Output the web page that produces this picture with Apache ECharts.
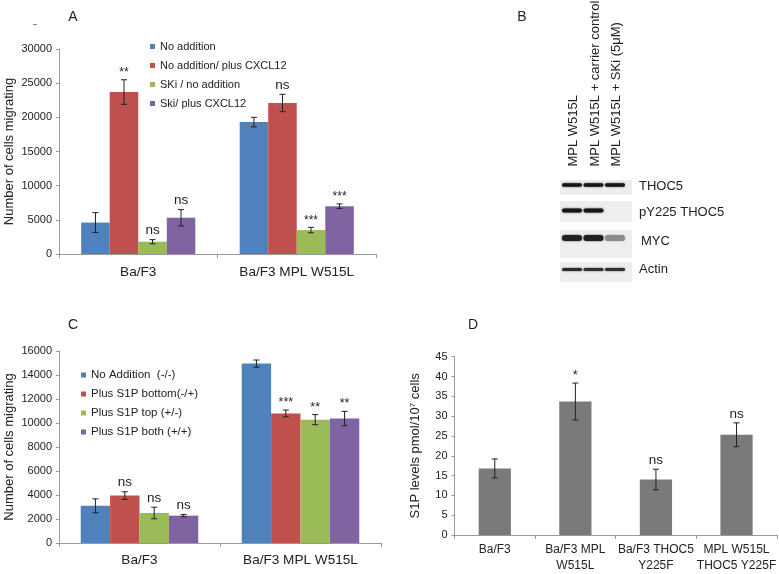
<!DOCTYPE html>
<html><head><meta charset="utf-8">
<script src="https://cdn.jsdelivr.net/npm/echarts@6/dist/echarts.min.js"></script>
<style>html,body{margin:0;padding:0;background:#fff}#c{width:779px;height:574px}</style>
</head><body><div id="c"></div>
<script>
// ---------- DATA ----------
const categoriesA = ['Ba/F3', 'Ba/F3 MPL W515L'];
const seriesNamesA = ['No addition', 'No addition/ plus CXCL12', 'SKi / no addition', 'Ski/ plus CXCL12'];
const valuesA = [[4600, 19300], [23700, 22100], [1800, 3500], [5300, 7000]];
const errorsA = [[1450, 700], [1800, 1270], [300, 400], [1200, 330]];
const sigA = [['', ''], ['**', 'ns'], ['ns', '***'], ['ns', '***']];
const ticksA = [0, 5000, 10000, 15000, 20000, 25000, 30000];

const categoriesC = ['Ba/F3', 'Ba/F3 MPL W515L'];
const seriesNamesC = ['No Addition  (-/-)', 'Plus S1P bottom(-/+)', 'Plus S1P top (+/-)', 'Plus S1P both (+/+)'];
const valuesC = [[3100, 14950], [3950, 10800], [2500, 10280], [2280, 10370]];
const errorsC = [[580, 300], [320, 280], [480, 420], [100, 600]];
const sigC = [['', ''], ['ns', '***'], ['ns', '**'], ['ns', '**']];
const ticksC = [0, 2000, 4000, 6000, 8000, 10000, 12000, 14000, 16000];

const categoriesD = ['Ba/F3', 'Ba/F3 MPL\nW515L', 'Ba/F3 THOC5\nY225F', 'MPL W515L\nTHOC5 Y225F'];
const valuesD = [16.8, 33.7, 14.0, 25.3];
const errorsD = [2.4, 4.65, 2.6, 3.0];
const sigD = ['', '*', 'ns', 'ns'];
const ticksD = [0, 5, 10, 15, 20, 25, 30, 35, 40, 45];

const blotLanes = ['MPL W515L', 'MPL W515L + carrier control', 'MPL W515L + SKi (5\u03BCM)'];
const blotProteins = ['THOC5', 'pY225 THOC5', 'MYC', 'Actin'];
const blotIntensity = [[1, 1, 1], [1, 1, 0.03], [0.95, 0.95, 0.45], [0.9, 0.88, 0.88]];

// ---------- STYLE ----------
const FONT = 'Liberation Sans, Arial, Helvetica, sans-serif';
const colors4 = ['#4F81BD', '#C0504D', '#9BBB59', '#8064A2'];
const TXT = '#222';
const AX = '#9a9a9a';

const chart = echarts.init(document.getElementById('c'), null, {renderer: 'canvas'});

function errSeries(gridIdx, idx, n, gap, vals, errs, sigs, sigFont) {
  const data = vals.map((v, i) => [i, v, errs[i]]);
  return {
    type: 'custom', xAxisIndex: gridIdx, yAxisIndex: gridIdx, z: 10, silent: true,
    data: data,
    encode: {x: 0, y: 1},
    renderItem: function (params, api) {
      const ci = api.value(0), v = api.value(1), e = api.value(2);
      const p = api.coord([ci, v]);
      const cw = api.size([1, 0])[0];
      const bw = cw * (1 - gap) / n;
      const x = p[0] + (idx - (n - 1) / 2) * bw;
      const yt = api.coord([ci, v + e])[1];
      const yb = api.coord([ci, v - e])[1];
      const ls = {stroke: '#222', lineWidth: 1};
      const cap = 3;
      const s = sigs[params.dataIndex];
      const children = [
        {type: 'line', shape: {x1: x, y1: yt, x2: x, y2: yb}, style: ls},
        {type: 'line', shape: {x1: x - cap, y1: yt, x2: x + cap, y2: yt}, style: ls},
        {type: 'line', shape: {x1: x - cap, y1: yb, x2: x + cap, y2: yb}, style: ls}
      ];
      if (s) {
        const isStar = s.indexOf('*') >= 0;
        children.push({type: 'text', style: {
          text: s, x: x, y: yt - (isStar ? 1 : 2), align: 'center', verticalAlign: 'bottom',
          fontSize: isStar ? sigFont[0] : sigFont[1], fontFamily: FONT, fill: TXT
        }});
      }
      return {type: 'group', children: children};
    }
  };
}

function yAx(gridIdx, max, interval, name, gap) {
  return {
    type: 'value', gridIndex: gridIdx, min: 0, max: max, interval: interval,
    name: name, nameLocation: 'middle', nameGap: gap,
    nameTextStyle: {fontSize: 13, fontFamily: FONT, color: TXT,
      rich: {sup: {fontSize: 8, verticalAlign: 'top', padding: [0, 0, 6, 0], fontFamily: FONT, color: TXT}, n: {fontSize: 13, fontFamily: FONT, color: TXT}}},
    axisLine: {show: true, lineStyle: {color: AX}},
    axisTick: {show: true, length: 3, lineStyle: {color: AX}},
    axisLabel: {fontSize: 11, fontFamily: FONT, color: TXT, margin: 7, formatter: v => String(v)},
    splitLine: {show: false}
  };
}
function xAx(gridIdx, cats, fs, margin, lh) {
  return {
    type: 'category', gridIndex: gridIdx, data: cats,
    axisLine: {show: true, lineStyle: {color: AX}},
    axisTick: {show: true, length: 4, alignWithLabel: false, lineStyle: {color: AX}},
    axisLabel: {fontSize: fs, fontFamily: FONT, color: TXT, margin: margin, interval: 0, lineHeight: lh || fs * 1.2},
    splitLine: {show: false}
  };
}

const gapA = 0.28, gapC = 0.27, gapD = 0.60;

const series = [];
seriesNamesA.forEach((nm, i) => {
  series.push({type: 'bar', name: nm, xAxisIndex: 0, yAxisIndex: 0, data: valuesA[i],
    barGap: '0%', barCategoryGap: (gapA * 100) + '%', itemStyle: {color: colors4[i]}});
});
seriesNamesA.forEach((nm, i) => series.push(errSeries(0, i, 4, gapA, valuesA[i], errorsA[i], sigA[i], [12, 13.5])));
seriesNamesC.forEach((nm, i) => {
  series.push({type: 'bar', name: nm, xAxisIndex: 1, yAxisIndex: 1, data: valuesC[i],
    barGap: '0%', barCategoryGap: (gapC * 100) + '%', itemStyle: {color: colors4[i]}});
});
seriesNamesC.forEach((nm, i) => series.push(errSeries(1, i, 4, gapC, valuesC[i], errorsC[i], sigC[i], [12.5, 13.5])));
series.push({type: 'bar', name: 'S1P levels', xAxisIndex: 2, yAxisIndex: 2, data: valuesD,
  barCategoryGap: (gapD * 100) + '%', itemStyle: {color: '#7a7a7a'}});
series.push(errSeries(2, 0, 1, gapD, valuesD, errorsD, sigD, [13, 13.5]));

// ---------- BLOT (panel B) ----------
const blotRows = [
  {y0: 180, y1: 195, band: 185, th: 3.5, ly: 186.7, lx: 639},
  {y0: 201, y1: 222, band: 210.5, th: 4, ly: 212.5, lx: 639},
  {y0: 230, y1: 258, band: 238, th: 6, ly: 241, lx: 641},
  {y0: 262, y1: 282, band: 269.5, th: 3, ly: 269, lx: 639}
];
const laneX = [572, 593.5, 615];
const laneLabelX = [573.5, 595, 616.5];
const graphic = [];
function shade(t) {
  const g = Math.round(236 - t * (236 - 22));
  return 'rgb(' + g + ',' + g + ',' + g + ')';
}
blotRows.forEach((r, ri) => {
  graphic.push({type: 'rect', shape: {x: 560, y: r.y0, width: 72, height: r.y1 - r.y0},
    style: {fill: '#eeeeee'}, z: 1});
  laneX.forEach((lx, li) => {
    const t = blotIntensity[ri][li];
    if (t < 0.05) return;
    graphic.push({type: 'rect', shape: {x: lx - 10, y: r.band - r.th / 2, width: 20, height: r.th, r: r.th / 2},
      style: {fill: shade(t), shadowBlur: 2, shadowColor: shade(t * 0.8)}, z: 2});
  });
  graphic.push({type: 'text', x: r.lx, y: r.ly, style: {text: blotProteins[ri], fontSize: 13, fontFamily: FONT,
    fill: TXT, align: 'left', verticalAlign: 'middle'}, z: 3});
});
blotLanes.forEach((t, i) => {
  graphic.push({type: 'text', x: laneLabelX[i], y: 166.5, rotation: Math.PI / 2,
    style: {text: t, fontSize: 13, fontFamily: FONT, fill: TXT, align: 'left', verticalAlign: 'middle'}, z: 3});
});
// panel letters
[['A', 73, 17], ['B', 522, 17], ['C', 73, 325], ['D', 473, 325]].forEach(p => {
  graphic.push({type: 'text', x: p[1], y: p[2], style: {text: p[0], fontSize: 14, fontFamily: FONT, fill: TXT,
    align: 'center', verticalAlign: 'middle'}});
});
graphic.push({type: 'line', shape: {x1: 33, y1: 24.5, x2: 37, y2: 24.5}, style: {stroke: '#888', lineWidth: 1}});

const option = {
  animation: false,
  backgroundColor: '#fff',
  textStyle: {fontFamily: FONT},
  grid: [
    {left: 59, top: 49, width: 317, height: 205, containLabel: false},
    {left: 59, top: 351, width: 322, height: 192, containLabel: false},
    {left: 454.5, top: 356.7, width: 324, height: 185, containLabel: false}
  ],
  xAxis: [xAx(0, categoriesA, 13.6, 10), xAx(1, categoriesC, 13.6, 9), xAx(2, categoriesD, 12, 7, 16)],
  yAxis: [
    yAx(0, ticksA[ticksA.length - 1], ticksA[1] - ticksA[0], 'Number of cells migrating', 43),
    yAx(1, ticksC[ticksC.length - 1], ticksC[1] - ticksC[0], 'Number of cells migrating', 43),
    yAx(2, ticksD[ticksD.length - 1], ticksD[1] - ticksD[0], '{n|S1P levels pmol/10}{sup|7}{n| cells}', 32)
  ],
  legend: [
    {data: seriesNamesA, orient: 'vertical', left: 150, top: 40.5, padding: 0, icon: 'rect', itemWidth: 5, itemHeight: 5,
      itemGap: 7, selectedMode: false, textStyle: {fontSize: 11, fontFamily: FONT, color: TXT, lineHeight: 12}},
    {data: seriesNamesC, orient: 'vertical', left: 81, top: 369, padding: 0, icon: 'rect', itemWidth: 5, itemHeight: 5,
      itemGap: 7, selectedMode: false, textStyle: {fontSize: 11.5, fontFamily: FONT, color: TXT, lineHeight: 12}}
  ],
  series: series,
  graphic: graphic
};
chart.setOption(option);
</script>
</body></html>
